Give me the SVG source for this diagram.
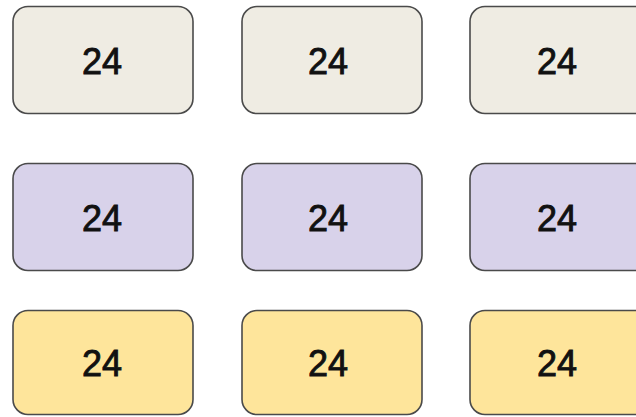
<svg xmlns="http://www.w3.org/2000/svg" width="636" height="417" viewBox="0 0 636 417">
<style>
.box{stroke:#4a4a4a;stroke-width:1.6}
.r1{fill:#efece3}
.r2{fill:#d8d2ea}
.r3{fill:#fee59b}
.t{font-family:"Liberation Sans",Arial,sans-serif;font-size:36px;fill:#111;stroke:#111;stroke-width:0.9;text-anchor:middle;dominant-baseline:central}
</style>
<rect width="636" height="417" fill="#ffffff"/>
<g id="n11"><rect class="box r1" x="13" y="6.5" width="180" height="107" rx="15"/><text class="t" x="102" y="61">24</text></g>
<g id="n12"><rect class="box r1" x="242" y="6.5" width="180" height="107" rx="15"/><text class="t" x="328" y="61">24</text></g>
<g id="n13"><rect class="box r1" x="470" y="6.5" width="180" height="107" rx="15"/><text class="t" x="557" y="61">24</text></g>
<g id="n21"><rect class="box r2" x="13" y="163.5" width="180" height="107" rx="15"/><text class="t" x="102" y="218">24</text></g>
<g id="n22"><rect class="box r2" x="242" y="163.5" width="180" height="107" rx="15"/><text class="t" x="328" y="218">24</text></g>
<g id="n23"><rect class="box r2" x="470" y="163.5" width="180" height="107" rx="15"/><text class="t" x="557" y="218">24</text></g>
<g id="n31"><rect class="box r3" x="13" y="310.5" width="180" height="104" rx="15"/><text class="t" x="102" y="363">24</text></g>
<g id="n32"><rect class="box r3" x="242" y="310.5" width="180" height="104" rx="15"/><text class="t" x="328" y="363">24</text></g>
<g id="n33"><rect class="box r3" x="470" y="310.5" width="180" height="104" rx="15"/><text class="t" x="557" y="363">24</text></g>
<g id="connectors"/>
</svg>
